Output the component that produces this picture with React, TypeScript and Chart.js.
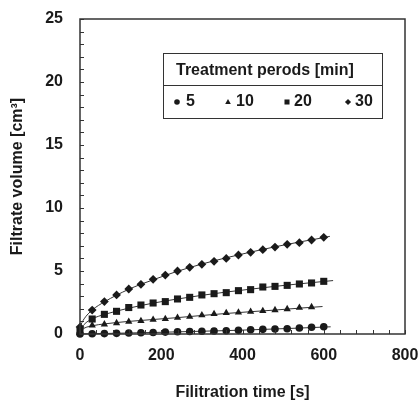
import React, { useEffect, useRef } from 'react';
import { Chart, registerables } from 'chart.js';

Chart.register(...registerables);

// Filtration times [s]
const times = [0, 30, 60, 90, 120, 150, 180, 210, 240, 270, 300, 330, 360, 390, 420, 450, 480, 510, 540, 570, 600];

// Filtrate volume [cm3] per treatment period
const vol5 = [0, 0.02, 0.03, 0.05, 0.08, 0.1, 0.12, 0.15, 0.18, 0.2, 0.22, 0.24, 0.26, 0.29, 0.34, 0.37, 0.4, 0.42, 0.48, 0.53, 0.57];
const vol10 = [0.1, 0.69, 0.77, 0.87, 0.98, 1.03, 1.14, 1.19, 1.3, 1.38, 1.5, 1.59, 1.67, 1.72, 1.77, 1.83, 1.9, 1.98, 2.09, 2.14];
const vol20 = [0.2, 1.19, 1.56, 1.8, 2.1, 2.3, 2.46, 2.57, 2.78, 2.91, 3.1, 3.2, 3.28, 3.44, 3.52, 3.73, 3.78, 3.86, 3.97, 4.05, 4.18];
const vol30 = [0.55, 1.9, 2.57, 3.1, 3.57, 3.94, 4.34, 4.68, 5.0, 5.29, 5.53, 5.77, 6.0, 6.27, 6.48, 6.69, 6.9, 7.12, 7.25, 7.46, 7.67];

// Fitted curves
const fit5T = [0, 30, 60, 120, 180, 240, 300, 360, 420, 480, 540, 600, 617];
const fit5V = [0.0, 0.02, 0.04, 0.08, 0.12, 0.17, 0.22, 0.27, 0.33, 0.4, 0.47, 0.55, 0.57];
const fit10T = [0, 10, 30, 60, 120, 180, 240, 300, 360, 420, 480, 540, 597];
const fit10V = [0.15, 0.45, 0.65, 0.8, 1.0, 1.15, 1.3, 1.47, 1.63, 1.77, 1.9, 2.05, 2.18];
const fit20T = [0, 10, 30, 60, 120, 180, 240, 300, 360, 420, 480, 540, 600, 623];
const fit20V = [0.25, 0.75, 1.2, 1.55, 2.05, 2.45, 2.78, 3.07, 3.33, 3.56, 3.78, 3.98, 4.17, 4.24];
const fit30T = [0, 10, 30, 60, 120, 180, 240, 300, 360, 420, 480, 540, 600, 615];
const fit30V = [0.6, 1.2, 1.9, 2.55, 3.55, 4.3, 4.98, 5.55, 6.05, 6.5, 6.92, 7.3, 7.65, 7.75];

const legendTitle = 'Treatment perods [min]';
const legendLabels = ['5', '10', '20', '30'];
const markerStyles = ['circle', 'triangle', 'rect', 'rectRot'];
const xTitle = 'Filitration time [s]';
const yTitle = 'Filtrate volume [cm³]';

const FONT = "'Liberation Sans', Arial, sans-serif";
const INK = '#1a1a1a';
const LINE = '#333333';

const pts = (xs: number[], ys: number[]) => ys.map((y, i) => ({ x: xs[i], y }));

function drawMarker(ctx: CanvasRenderingContext2D, style: string, x: number, y: number, r: number) {
  ctx.beginPath();
  if (style === 'circle') {
    ctx.arc(x, y, r, 0, Math.PI * 2);
  } else if (style === 'triangle') {
    ctx.moveTo(x, y - r * 1.1);
    ctx.lineTo(x + r, y + r * 0.75);
    ctx.lineTo(x - r, y + r * 0.75);
    ctx.closePath();
  } else if (style === 'rect') {
    ctx.rect(x - r * 0.9, y - r * 0.9, r * 1.8, r * 1.8);
  } else {
    ctx.moveTo(x, y - r * 1.1);
    ctx.lineTo(x + r * 1.1, y);
    ctx.lineTo(x, y + r * 1.1);
    ctx.lineTo(x - r * 1.1, y);
    ctx.closePath();
  }
  ctx.fill();
}

const framePlugin = {
  id: 'frameTicks',
  afterDatasetsDraw(chart: any) {
    const { ctx, chartArea } = chart;
    const xs = chart.scales.x;
    const ys = chart.scales.y;
    ctx.save();
    ctx.strokeStyle = LINE;
    ctx.lineWidth = 1;
    // minor/major ticks, inward
    for (let v = 0; v <= 25; v += 1) {
      const py = Math.round(ys.getPixelForValue(v)) + 0.5;
      ctx.beginPath();
      ctx.moveTo(chartArea.left, py);
      ctx.lineTo(chartArea.left + 4, py);
      ctx.stroke();
    }
    for (let v = 0; v <= 800; v += 40) {
      const px = Math.round(xs.getPixelForValue(v)) + 0.5;
      ctx.beginPath();
      ctx.moveTo(px, chartArea.bottom);
      ctx.lineTo(px, chartArea.bottom - 4);
      ctx.stroke();
    }
    ctx.lineWidth = 1.5;
    ctx.strokeStyle = LINE;
    ctx.strokeRect(chartArea.left, chartArea.top, chartArea.right - chartArea.left, chartArea.bottom - chartArea.top);

    // Axis titles
    ctx.fillStyle = INK;
    ctx.font = `bold 16px ${FONT}`;
    ctx.textAlign = 'center';
    ctx.textBaseline = 'middle';
    ctx.fillText(xTitle, (chartArea.left + chartArea.right) / 2, 393);
    ctx.save();
    ctx.translate(18, (chartArea.top + chartArea.bottom) / 2);
    ctx.rotate(-Math.PI / 2);
    ctx.fillText(yTitle, 0, 0);
    ctx.restore();

    // Legend box
    const bx = 163, by = 53, bw = 219, bh = 65;
    ctx.fillStyle = '#ffffff';
    ctx.fillRect(bx, by, bw, bh);
    ctx.lineWidth = 1;
    ctx.strokeStyle = LINE;
    ctx.strokeRect(bx + 0.5, by + 0.5, bw, bh);
    ctx.beginPath();
    ctx.moveTo(bx, 85.5);
    ctx.lineTo(bx + bw, 85.5);
    ctx.stroke();
    ctx.fillStyle = INK;
    ctx.textAlign = 'left';
    ctx.fillText(legendTitle, 176, 71);
    const mx = [177, 228, 287, 348];
    const tx = [186, 236, 294, 355];
    legendLabels.forEach((lab, i) => {
      drawMarker(ctx, markerStyles[i], mx[i], 102, 2.8);
      ctx.fillText(lab, tx[i], 102);
    });
    ctx.restore();
  },
};

export default function App() {
  const ref = useRef<HTMLCanvasElement>(null);
  useEffect(() => {
    if (!ref.current) return;
    const fitDs = (xs: number[], ys: number[]) => ({
      type: 'line' as const,
      data: pts(xs, ys),
      showLine: true,
      borderColor: LINE,
      borderWidth: 1,
      pointRadius: 0,
      cubicInterpolationMode: 'monotone' as const,
      fill: false,
      order: 2,
      clip: false as any,
    });
    const ptDs = (ys: number[], style: string, r: number) => ({
      type: 'scatter' as const,
      data: pts(times, ys),
      pointStyle: style,
      pointRadius: r,
      pointBackgroundColor: INK,
      pointBorderColor: INK,
      pointBorderWidth: 0,
      showLine: false,
      order: 1,
      clip: false as any,
    });
    const chart = new Chart(ref.current, {
      type: 'scatter',
      data: {
        datasets: [
          fitDs(fit5T, fit5V),
          fitDs(fit10T, fit10V),
          fitDs(fit20T, fit20V),
          fitDs(fit30T, fit30V),
          ptDs(vol5, 'circle', 3.8),
          ptDs(vol10, 'triangle', 4.2),
          ptDs(vol20, 'rect', 5),
          ptDs(vol30, 'rectRot', 4.4),
        ] as any,
      },
      options: {
        animation: false,
        responsive: false,
        devicePixelRatio: 1,
        layout: { padding: { top: 19, right: 14, left: 0, bottom: 0 } },
        plugins: { legend: { display: false }, tooltip: { enabled: false } },
        scales: {
          x: {
            type: 'linear',
            min: 0,
            max: 800,
            ticks: { stepSize: 200, color: INK, padding: 12, maxRotation: 0, font: { family: FONT, size: 16, weight: 'bold' } },
            grid: { display: false, drawTicks: false },
            border: { display: false },
            afterFit: (s: any) => { s.height = 69; s.paddingLeft = 0; s.paddingRight = 0; },
          },
          y: {
            type: 'linear',
            min: 0,
            max: 25,
            ticks: { stepSize: 5, color: INK, padding: 17, font: { family: FONT, size: 16, weight: 'bold' } },
            grid: { display: false, drawTicks: false },
            border: { display: false },
            afterFit: (s: any) => { s.width = 80; s.paddingTop = 0; s.paddingBottom = 0; },
          },
        },
      } as any,
      plugins: [framePlugin],
    });
    return () => chart.destroy();
  }, []);
  return (
    <div style={{ position: 'absolute', left: 0, top: 0, width: 419, height: 403, background: '#fff' }}>
      <canvas ref={ref} width={419} height={403} />
    </div>
  );
}
